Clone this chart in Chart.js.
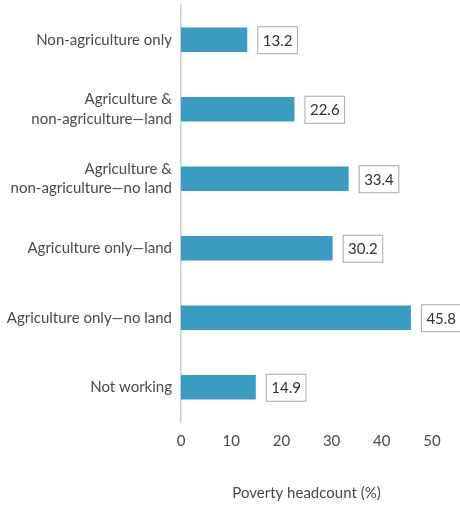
<!DOCTYPE html>
<html>
<head>
<meta charset="utf-8">
<script src="https://cdn.jsdelivr.net/npm/chart.js@4"></script>
<style>
  html, body { margin: 0; padding: 0; background: #ffffff; }
  #wrap { width: 460px; height: 506px; }
</style>
</head>
<body>
<div id="wrap"><canvas id="povChart" width="460" height="506"></canvas></div>
<script>
// data
const categories = [
  ["Non-agriculture only"],
  ["Agriculture &", "non-agriculture\u2014land"],
  ["Agriculture &", "non-agriculture\u2014no land"],
  ["Agriculture only\u2014land"],
  ["Agriculture only\u2014no land"],
  ["Not working"]
];
const headcount = [13.2, 22.6, 33.4, 30.2, 45.8, 14.9];
const xTicks = [0, 10, 20, 30, 40, 50];

const textColor = "#4a4a4a";
const fontFamily = "Lato, 'Open Sans', sans-serif";

// boxed value labels next to each bar
const boxLabels = {
  id: "boxLabels",
  afterDatasetsDraw(chart) {
    const ctx = chart.ctx;
    const meta = chart.getDatasetMeta(0);
    ctx.save();
    ctx.font = "15px " + fontFamily;
    ctx.textBaseline = "middle";
    meta.data.forEach((bar, i) => {
      const txt = headcount[i].toFixed(1);
      const w = ctx.measureText(txt).width + 10;
      const h = 27;
      const x = bar.x + 10;
      const y = bar.y - h / 2;
      ctx.fillStyle = "#ffffff";
      ctx.fillRect(x, y, w, h);
      ctx.strokeStyle = "#a9a9a9";
      ctx.lineWidth = 1;
      ctx.strokeRect(x + 0.5, y + 0.5, w, h);
      ctx.fillStyle = "#333333";
      ctx.textAlign = "left";
      ctx.fillText(txt, x + 5.5, bar.y + 1);
    });
    ctx.restore();
  }
};

const povChart = new Chart(document.getElementById("povChart"), {
  type: "bar",
  data: {
    labels: categories,
    datasets: [{
      data: headcount,
      backgroundColor: "#3b9cc1",
      borderWidth: 0,
      categoryPercentage: 0.7,
      barPercentage: 0.5
    }]
  },
  options: {
    indexAxis: "y",
    responsive: false,
    animation: false,
    layout: { padding: { top: 5, right: 28, left: 0, bottom: 4 } },
    plugins: {
      legend: { display: false },
      tooltip: { enabled: false }
    },
    scales: {
      x: {
        min: 0,
        max: 50,
        afterBuildTicks(scale) {
          scale.ticks = xTicks.map(v => ({ value: v }));
        },
        grid: { display: false, drawTicks: false },
        border: { display: false },
        ticks: {
          color: textColor,
          padding: 10,
          font: { family: fontFamily, size: 15 }
        },
        title: {
          display: true,
          text: "Poverty headcount (%)",
          color: textColor,
          padding: { top: 24, bottom: 0 },
          font: { family: fontFamily, size: 15 }
        }
      },
      y: {
        afterFit(scale) {
          scale.width = 181;
          scale.paddingTop = 0;
          scale.paddingBottom = 0;
        },
        grid: { display: false, drawTicks: false },
        border: { display: true, color: "#cccccc", width: 1.5 },
        ticks: {
          color: textColor,
          padding: 9,
          font: { family: fontFamily, size: 15, lineHeight: 1.3 }
        }
      }
    }
  },
  plugins: [boxLabels]
});
</script>
</body>
</html>
